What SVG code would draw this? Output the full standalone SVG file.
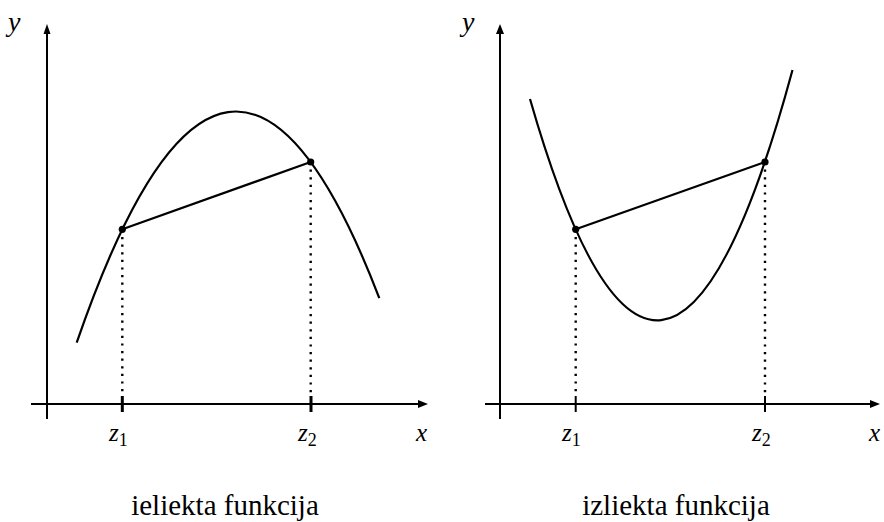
<svg xmlns="http://www.w3.org/2000/svg" width="884" height="522" viewBox="0 0 884 522">
<style>
.ax{stroke:#000;stroke-width:2;fill:none}
.tk{stroke:#000;fill:none}
.cv{stroke:#000;stroke-width:2.2;fill:none}
.dt{stroke:#000;stroke-width:2.4;stroke-dasharray:2.2 5.4;fill:none}
.pt{fill:#000}
.m{font-style:italic;fill:#000}
.t{font-size:29px;fill:#000;text-anchor:middle}
.ah{fill:#000}
</style>
<g id="left-plot">
  <g id="left-axes">
    <line class="ax" x1="31" y1="404" x2="420" y2="404"/>
    <polygon class="ah" points="428,404 418,400 418,408"/>
    <line class="ax" x1="47" y1="419" x2="47" y2="32"/>
    <polygon class="ah" points="47,24 43.5,34 50.5,34"/>
    <line class="tk" stroke-width="3" x1="122.3" y1="396" x2="122.3" y2="412"/>
    <line class="tk" stroke-width="3" x1="311" y1="396" x2="311" y2="412"/>
  </g>
  <g id="left-curve">
    <path class="cv" d="M76.7,342.7 Q228,-96.2 379.3,298.1"/>
  </g>
  <g id="left-chord">
    <line class="cv" x1="122.3" y1="229.3" x2="310.7" y2="162"/>
    <line class="dt" x1="122.3" y1="237" x2="122.3" y2="394"/>
    <line class="dt" x1="310.7" y1="169.6" x2="310.7" y2="394"/>
    <circle class="pt" cx="122.3" cy="229.3" r="3.6"/>
    <circle class="pt" cx="310.7" cy="162" r="3.6"/>
  </g>
  <g id="left-labels" font-family="Liberation Serif, DejaVu Serif, serif">
    <text class="m" x="8" y="31" font-size="28">y</text>
    <text class="m" x="109" y="441" font-size="25">z<tspan font-style="normal" font-size="18" dy="5">1</tspan></text>
    <text class="m" x="298" y="441" font-size="25">z<tspan font-style="normal" font-size="18" dy="5">2</tspan></text>
    <text class="m" x="416" y="441" font-size="25">x</text>
    <text class="t" x="225" y="515">ieliekta funkcija</text>
  </g>
</g>
<g id="right-plot">
  <g id="right-axes">
    <line class="ax" x1="485" y1="404" x2="872" y2="404"/>
    <polygon class="ah" points="880,404 870,400 870,408"/>
    <line class="ax" stroke-width="3.3" x1="500" y1="419" x2="500" y2="32"/>
    <polygon class="ah" points="500,24 496,34 504,34"/>
    <line class="tk" stroke-width="2" x1="575.7" y1="396" x2="575.7" y2="412"/>
    <line class="tk" stroke-width="2" x1="765" y1="396" x2="765" y2="412"/>
  </g>
  <g id="right-curve">
    <path class="cv" d="M530,99 Q661.25,555.7 792.5,70"/>
  </g>
  <g id="right-chord">
    <line class="cv" x1="575.7" y1="229.3" x2="765" y2="162"/>
    <line class="dt" x1="575.7" y1="237" x2="575.7" y2="394"/>
    <line class="dt" x1="765" y1="169.6" x2="765" y2="394"/>
    <circle class="pt" cx="575.7" cy="229.3" r="3.6"/>
    <circle class="pt" cx="765" cy="162" r="3.6"/>
  </g>
  <g id="right-labels" font-family="Liberation Serif, DejaVu Serif, serif">
    <text class="m" x="462" y="31" font-size="28">y</text>
    <text class="m" x="562" y="441" font-size="25">z<tspan font-style="normal" font-size="18" dy="5">1</tspan></text>
    <text class="m" x="752" y="441" font-size="25">z<tspan font-style="normal" font-size="18" dy="5">2</tspan></text>
    <text class="m" x="869" y="441" font-size="25">x</text>
    <text class="t" x="676" y="515">izliekta funkcija</text>
  </g>
</g>
</svg>
